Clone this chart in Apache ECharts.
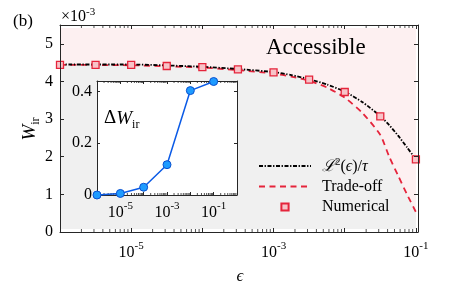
<!DOCTYPE html>
<html><head><meta charset="utf-8">
<script src="https://cdn.jsdelivr.net/npm/echarts@6/dist/echarts.min.js"></script>
<style>html,body{margin:0;padding:0;background:#fff}#c{width:463px;height:287px}</style>
</head><body><div id="c"></div>
<script>
// ---- data ----
const epsNum = [1e-6, 3.16e-6, 1e-5, 3.16e-5, 1e-4, 3.16e-4, 1e-3, 3.16e-3, 1e-2, 3.16e-2, 1e-1];
const wNum   = [4.44, 4.44, 4.44, 4.41, 4.38, 4.32, 4.24, 4.05, 3.72, 3.07, 1.93];

const epsL2 = [1e-6, 1e-5, 1e-4, 3.16e-4, 1e-3, 1.78e-3, 3.16e-3, 5.62e-3, 1e-2, 1.78e-2, 3.16e-2, 4.22e-2, 5.62e-2, 7.5e-2, 1e-1];
const wL2   = [4.45, 4.45, 4.39, 4.33, 4.25, 4.17, 4.06, 3.92, 3.73, 3.45, 3.08, 2.84, 2.56, 2.25, 1.93];

const epsTO = [1e-6, 1e-5, 1e-4, 3.16e-4, 1e-3, 1.78e-3, 3.16e-3, 5.62e-3, 1e-2, 1.78e-2, 3.16e-2, 4.22e-2, 5.62e-2, 7.5e-2, 1e-1];
const wTO   = [4.44, 4.43, 4.37, 4.30, 4.21, 4.13, 4.02, 3.84, 3.57, 3.16, 2.58, 2.00, 1.50, 1.00, 0.53];

const epsIn = [1e-6, 1e-5, 1e-4, 1e-3, 1e-2, 1e-1];
const dWIn  = [0.0, 0.006, 0.030, 0.117, 0.403, 0.438];

const xLabelExps = [-5, -3, -1];
const yTicks = [0, 1, 2, 3, 4, 5];
const insetYTicks = [0, 0.2, 0.4];
const minorTicks = [2e-6,3e-6,4e-6,5e-6,6e-6,7e-6,8e-6,9e-6,
  2e-5,3e-5,4e-5,5e-5,6e-5,7e-5,8e-5,9e-5,
  2e-4,3e-4,4e-4,5e-4,6e-4,7e-4,8e-4,9e-4,
  2e-3,3e-3,4e-3,5e-3,6e-3,7e-3,8e-3,9e-3,
  2e-2,3e-2,4e-2,5e-2,6e-2,7e-2,8e-2,9e-2,
  2e-1,3e-1,4e-1,5e-1,6e-1,7e-1,8e-1,9e-1];

// ---- styling ----
const F = '"Liberation Serif", "DejaVu Serif", serif';
const AX = '#262626';
const RED = '#e5243b';
const PINK = '#fdf0f1';
const GRAY = '#f0f0f0';
const XMAX = 0.107, YMAX = 5.5, INY = 0.44;

const supRich = {
  b: {fontFamily: F, fontSize: 16, color: '#000', verticalAlign: 'bottom', lineHeight: 20},
  s: {fontFamily: F, fontSize: 11, color: '#000', verticalAlign: 'top', lineHeight: 11}
};
function logFmt(v) {
  const e = Math.log10(v), r = Math.round(e);
  if (Math.abs(e - r) > 1e-6 || xLabelExps.indexOf(r) < 0) return '';
  return '{b|10}{s|' + r + '}';
}
const zip = (a, b) => a.map((x, i) => [x, b[i]]);

const chart = echarts.init(document.getElementById('c'), null, {renderer: 'canvas'});
const tickCommon = {inside: true, length: 4, lineStyle: {color: AX, width: 1}};
const lineCommon = {show: true, onZero: false, lineStyle: {color: AX, width: 1}};
const hideSym = {color: 'rgba(0,0,0,0)', borderWidth: 0, opacity: 0};

const option = {
  animation: false,
  grid: [
    {left: 60, top: 25, width: 358, height: 207, z: 0},
    {left: 97, top: 81, width: 140, height: 114, z: 10, show: true, backgroundColor: '#fff', borderWidth: 0}
  ],
  xAxis: [
    {type: 'log', gridIndex: 0, min: 1e-6, max: XMAX, z: 6, axisLine: lineCommon, axisTick: tickCommon,
     splitLine: {show: false}, axisLabel: {formatter: logFmt, rich: supRich, margin: 9}},
    {type: 'log', gridIndex: 0, position: 'top', min: 1e-6, max: XMAX, z: 6, axisLine: lineCommon,
     axisTick: tickCommon, splitLine: {show: false}, axisLabel: {show: false}},
    {type: 'log', gridIndex: 1, min: 1e-6, max: 1, z: 11, axisLine: lineCommon,
     axisTick: Object.assign({}, tickCommon, {length: 3}), splitLine: {show: false},
     axisLabel: {formatter: logFmt, rich: supRich, margin: 6}},
    {type: 'log', gridIndex: 1, position: 'top', min: 1e-6, max: 1, z: 11, axisLine: lineCommon,
     axisTick: Object.assign({}, tickCommon, {length: 3}), splitLine: {show: false}, axisLabel: {show: false}}
  ],
  yAxis: [
    {type: 'value', gridIndex: 0, min: 0, max: YMAX, interval: 1, z: 6, axisLine: lineCommon, axisTick: tickCommon,
     splitLine: {show: false},
     axisLabel: {margin: 7, fontFamily: F, fontSize: 16, color: '#000',
       formatter: v => yTicks.indexOf(v) >= 0 ? String(v) : ''}},
    {type: 'value', gridIndex: 0, position: 'right', min: 0, max: YMAX, interval: 1, z: 6, axisLine: lineCommon,
     axisTick: tickCommon, splitLine: {show: false}, axisLabel: {show: false}},
    {type: 'value', gridIndex: 1, min: 0, max: INY, interval: 0.2, z: 11, axisLine: lineCommon,
     axisTick: Object.assign({}, tickCommon, {length: 3}), splitLine: {show: false},
     axisLabel: {margin: 5, fontFamily: F, fontSize: 16, color: '#000',
       formatter: v => insetYTicks.some(t => Math.abs(t - v) < 1e-9) ? String(v) : ''}},
    {type: 'value', gridIndex: 1, position: 'right', min: 0, max: INY, interval: 0.2, z: 11, axisLine: lineCommon,
     axisTick: Object.assign({}, tickCommon, {length: 3}), splitLine: {show: false}, axisLabel: {show: false}}
  ],
  legend: {
    orient: 'vertical', left: 253, top: 152, itemWidth: 52, itemHeight: 9, itemGap: 2.5,
    data: [{name: 'L2', itemStyle: hideSym}, {name: 'Trade-off', itemStyle: hideSym}, 'Numerical'],
    formatter: n => n === 'L2' ? '{c|ℒ}{s|2}{n|(}{i|ϵ}{n|)/}{i|τ}' : n,
    textStyle: {fontFamily: F, fontSize: 16, lineHeight: 18, color: '#000', padding: [0, 0, 0, 6],
      rich: {
        c: {fontFamily: F, fontSize: 16, fontStyle: 'italic', color: '#000', verticalAlign: 'bottom', lineHeight: 18},
        s: {fontFamily: F, fontSize: 11, color: '#000', verticalAlign: 'top', lineHeight: 11},
        n: {fontFamily: F, fontSize: 16, color: '#000', verticalAlign: 'bottom', lineHeight: 18},
        i: {fontFamily: F, fontSize: 16, fontStyle: 'italic', color: '#000', verticalAlign: 'bottom', lineHeight: 18}
      }}
  },
  graphic: [
    {type: 'text', x: 13, y: 22, z: 20, style: {text: '(b)', font: '17px ' + F, fill: '#000', verticalAlign: 'middle'}},
    {type: 'text', x: 61, y: 16, z: 20, style: {text: '{x|×10}{s|-3}', verticalAlign: 'middle',
      rich: {x: {fontFamily: F, fontSize: 16, color: '#000', verticalAlign: 'bottom', lineHeight: 18},
             s: {fontFamily: F, fontSize: 11, color: '#000', verticalAlign: 'top', lineHeight: 11}}}},
    {type: 'text', x: 266, y: 48, z: 20, style: {text: 'Accessible', font: '23px ' + F, fill: '#000', verticalAlign: 'middle'}},
    {type: 'text', x: 104, y: 120, z: 20, style: {text: '{d|Δ}{w|W}{s|ir}', verticalAlign: 'middle',
      rich: {d: {fontFamily: F, fontSize: 19, color: '#000', verticalAlign: 'top', lineHeight: 22},
             w: {fontFamily: F, fontSize: 19, fontStyle: 'italic', color: '#000', verticalAlign: 'top', lineHeight: 22},
             s: {fontFamily: F, fontSize: 12, color: '#000', verticalAlign: 'bottom', lineHeight: 12}}}},
    {type: 'text', x: 31, y: 129, rotation: Math.PI / 2, z: 20, style: {text: '{w|W}{s|ir}', align: 'center', verticalAlign: 'middle',
      rich: {w: {fontFamily: F, fontSize: 19, fontStyle: 'italic', color: '#000', verticalAlign: 'top', lineHeight: 22},
             s: {fontFamily: F, fontSize: 12, color: '#000', verticalAlign: 'bottom', lineHeight: 12}}}},
    {type: 'text', x: 240, y: 277, z: 20, style: {text: 'ϵ', font: 'italic 17px ' + F, fill: '#000', align: 'center', verticalAlign: 'middle'}}
  ],
  series: [
    {name: 'bgPink', type: 'line', xAxisIndex: 0, yAxisIndex: 0, silent: true, symbol: 'none', z: 1,
     data: [[1e-6, 5.42], [0.1, 5.42]], lineStyle: {width: 0}, areaStyle: {color: PINK, opacity: 1, origin: 0.08}},
    {name: 'bgGray', type: 'line', xAxisIndex: 0, yAxisIndex: 0, silent: true, symbol: 'none', z: 2, smooth: 0.2,
     data: zip(epsTO, wTO), lineStyle: {width: 0}, areaStyle: {color: GRAY, opacity: 1, origin: 0.08}},
    {name: 'Trade-off', type: 'line', xAxisIndex: 0, yAxisIndex: 0, symbol: 'none', z: 3, smooth: 0.2,
     data: zip(epsTO, wTO), color: RED, lineStyle: {color: RED, width: 1.8, type: [6, 4.5]}},
    {name: 'L2', type: 'line', xAxisIndex: 0, yAxisIndex: 0, symbol: 'none', z: 4, smooth: 0.2,
     data: zip(epsL2, wL2), color: '#000', lineStyle: {color: '#000', width: 1.8, type: [4, 1.6, 1.3, 1.6]}},
    {name: 'Numerical', type: 'line', xAxisIndex: 0, yAxisIndex: 0, z: 5, symbol: 'rect', symbolSize: 7,
     showAllSymbol: true, data: zip(epsNum, wNum), lineStyle: {width: 0}, color: RED,
     itemStyle: {color: '#f7c3c8', borderColor: RED, borderWidth: 1.3}},
    {name: 'minorBottom', type: 'scatter', xAxisIndex: 0, yAxisIndex: 0, silent: true, clip: false, z: 6,
     data: minorTicks.filter(v => v < XMAX).map(v => [v, 0]), symbol: 'rect', symbolSize: [1, 3], symbolOffset: [0, -1.5],
     itemStyle: {color: AX}},
    {name: 'minorTop', type: 'scatter', xAxisIndex: 0, yAxisIndex: 0, silent: true, clip: false, z: 6,
     data: minorTicks.filter(v => v < XMAX).map(v => [v, YMAX]), symbol: 'rect', symbolSize: [1, 3], symbolOffset: [0, 1.5],
     itemStyle: {color: AX}},
    {name: 'inMinorBottom', type: 'scatter', xAxisIndex: 2, yAxisIndex: 2, silent: true, clip: false, z: 12,
     data: minorTicks.map(v => [v, 0]), symbol: 'rect', symbolSize: [1, 2], symbolOffset: [0, -1],
     itemStyle: {color: AX}},
    {name: 'inMinorTop', type: 'scatter', xAxisIndex: 2, yAxisIndex: 2, silent: true, clip: false, z: 12,
     data: minorTicks.map(v => [v, INY]), symbol: 'rect', symbolSize: [1, 2], symbolOffset: [0, 1],
     itemStyle: {color: AX}},
    {name: 'dW', type: 'line', xAxisIndex: 2, yAxisIndex: 2, z: 13, clip: false, symbol: 'circle', symbolSize: 8,
     showAllSymbol: true, data: zip(epsIn, dWIn), color: '#0a5ae6',
     lineStyle: {color: '#0a5ae6', width: 1.5},
     itemStyle: {color: '#1e9bff', borderColor: '#0a50d0', borderWidth: 1}}
  ]
};
chart.setOption(option);
</script>
</body></html>
